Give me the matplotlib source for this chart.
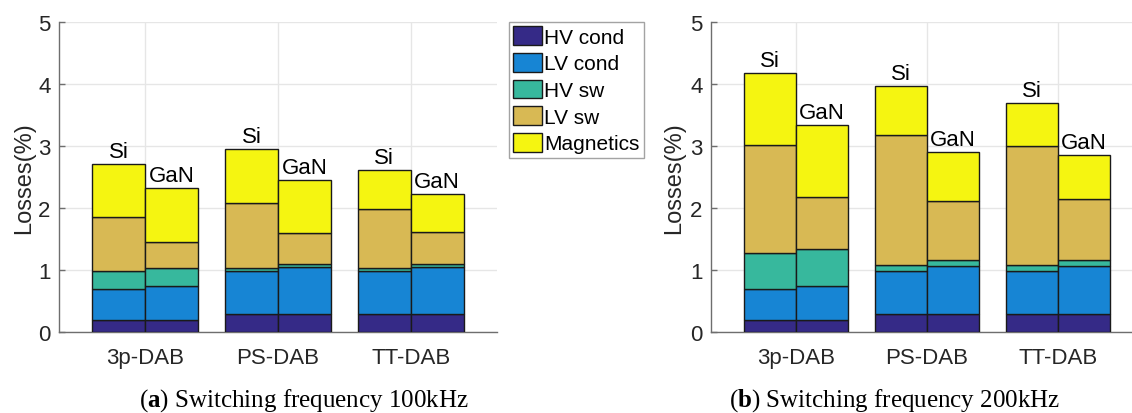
import numpy as np
import matplotlib
matplotlib.use("Agg")
import matplotlib.pyplot as plt
from matplotlib.patches import Patch

plt.rcParams['font.family'] = ['Liberation Sans', 'DejaVu Sans']
plt.rcParams['mathtext.fontset'] = 'custom'
plt.rcParams['mathtext.rm'] = 'Liberation Serif'
plt.rcParams['mathtext.bf'] = 'Liberation Serif:bold'

topologies = ['3p-DAB', 'PS-DAB', 'TT-DAB']
devices = ['Si', 'GaN']
components = ['HV cond', 'LV cond', 'HV sw', 'LV sw', 'Magnetics']
colors = ['#352a87', '#1785d4', '#37b89d', '#d8b954', '#f5f511']

# losses (%) per component, rows = topology, one list per device
loss_100k_si = [[0.20, 0.49, 0.29, 0.87, 0.86],
                [0.29, 0.69, 0.05, 1.05, 0.87],
                [0.29, 0.69, 0.05, 0.96, 0.62]]
loss_100k_gan = [[0.20, 0.54, 0.30, 0.41, 0.87],
                 [0.29, 0.76, 0.05, 0.49, 0.86],
                 [0.29, 0.76, 0.05, 0.51, 0.61]]
loss_200k_si = [[0.20, 0.49, 0.59, 1.73, 1.17],
                [0.29, 0.69, 0.10, 2.10, 0.79],
                [0.29, 0.69, 0.10, 1.92, 0.69]]
loss_200k_gan = [[0.20, 0.54, 0.60, 0.83, 1.17],
                 [0.29, 0.77, 0.10, 0.96, 0.79],
                 [0.29, 0.77, 0.10, 0.99, 0.70]]

fig = plt.figure(figsize=(11.32, 4.14), dpi=100)
ax1 = fig.add_axes([0.0521, 0.1957, 0.3869, 0.7487])
ax2 = fig.add_axes([0.6281, 0.1957, 0.3816, 0.7487])

axis_col = '#262626'
x = np.arange(1, len(topologies) + 1)
w = 0.4


def stacked(ax, si, gan, ylab_x):
    for data, off, name in ((si, -w / 2, devices[0]), (gan, w / 2, devices[1])):
        data = np.array(data)
        bottom = np.zeros(len(x))
        for k in range(data.shape[1]):
            ax.bar(x + off, data[:, k], w, bottom=bottom, color=colors[k],
                   edgecolor='#1a1a1a', linewidth=1.0, zorder=3)
            bottom += data[:, k]
        for xi, top in zip(x + off, bottom):
            ax.text(xi, top + 0.03, name, ha='center', va='bottom',
                    fontsize=16, color='black')
    ax.set_xlim(0.35, 3.65)
    ax.set_ylim(0, 5)
    ax.set_xticks(x)
    ax.set_xticklabels(topologies)
    ax.set_yticks(range(6))
    ax.set_ylabel('Losses(%)', fontsize=17, color=axis_col)
    ax.yaxis.set_label_coords(ylab_x, 0.5)
    ax.grid(True, color='#e6e6e6', linewidth=1.0, zorder=0)
    ax.set_axisbelow(True)
    for s in ('top', 'right'):
        ax.spines[s].set_visible(False)
    for s in ('left', 'bottom'):
        ax.spines[s].set_color('#6e6e6e')
        ax.spines[s].set_linewidth(1.0)
    ax.tick_params(axis='both', direction='in', length=4, width=1.0,
                   color='#6e6e6e', labelsize=16, labelcolor=axis_col)
    ax.tick_params(axis='x', pad=11, length=0)
    ax.tick_params(axis='y', pad=6)


stacked(ax1, loss_100k_si, loss_100k_gan, -0.055)
stacked(ax2, loss_200k_si, loss_200k_gan, -0.060)

handles = [Patch(facecolor=c, edgecolor='#1a1a1a', linewidth=1.0) for c in colors]
leg = fig.legend(handles, components, loc='upper left',
                 bbox_to_anchor=(509 / 1132, 1 - 23 / 414), fontsize=15,
                 frameon=True, fancybox=False, edgecolor='#8c8c8c',
                 handlelength=1.4, handleheight=1.0, handletextpad=0.1,
                 labelspacing=0.3, borderpad=0.2, borderaxespad=0.0)
leg.get_frame().set_linewidth(1.0)
for t in leg.get_texts():
    t.set_color('black')

fig.text(304 / 1132, 1 - 401 / 414, r'($\mathbf{a}$) Switching frequency 100kHz',
         ha='center', va='center', fontsize=18, family='Liberation Serif')
fig.text(895 / 1132, 1 - 401 / 414, r'($\mathbf{b}$) Switching frequency 200kHz',
         ha='center', va='center', fontsize=18, family='Liberation Serif')

fig.savefig('out.png', dpi=100)
